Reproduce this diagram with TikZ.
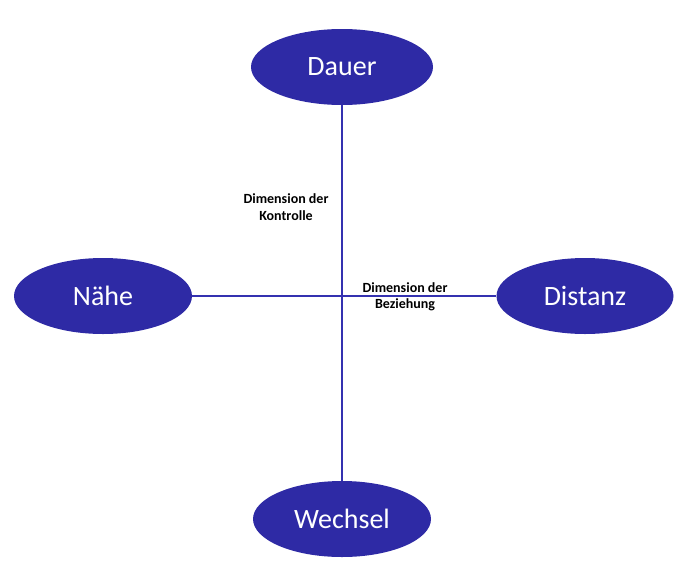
\documentclass[tikz,border=0pt]{standalone}
\usepackage{fontspec}
\setmainfont{Carlito}
\usetikzlibrary{shapes.geometric}
\definecolor{ellblue}{HTML}{2E2AA5}
\definecolor{lineblue}{HTML}{3431B0}
\tikzset{
  pole/.style={ellipse, fill=ellblue, draw=none, text=white, minimum width=#1, minimum height=76pt, inner sep=0pt, font=\fontsize{28}{32}\selectfont},
  pole/.default=180pt,
  axis/.style={draw=lineblue, line width=2pt},
  dimlabel/.style={font=\fontsize{14}{16.5}\selectfont\bfseries, align=center, inner sep=0pt}
}
\begin{document}
\begin{tikzpicture}[x=1pt,y=-1pt]
\useasboundingbox (0,0) rectangle (693,568);
\node[pole=182pt] (dauer) at (342,67) {Dauer};
\node[pole=178pt] (naehe) at (103,296) {Nähe};
\node[pole=177pt] (distanz) at (585,296) {Distanz};
\node[pole=178pt] (wechsel) at (342,519) {Wechsel};
\draw[axis] (dauer.south) -- (wechsel.north);
\draw[axis] (naehe.east) -- (distanz.west);
\node[dimlabel] (kontrolle) at (286,207) {Dimension der\\Kontrolle};
\node[dimlabel] (beziehung) at (405,297) {Dimension der\\Beziehung};
\end{tikzpicture}
\end{document}
